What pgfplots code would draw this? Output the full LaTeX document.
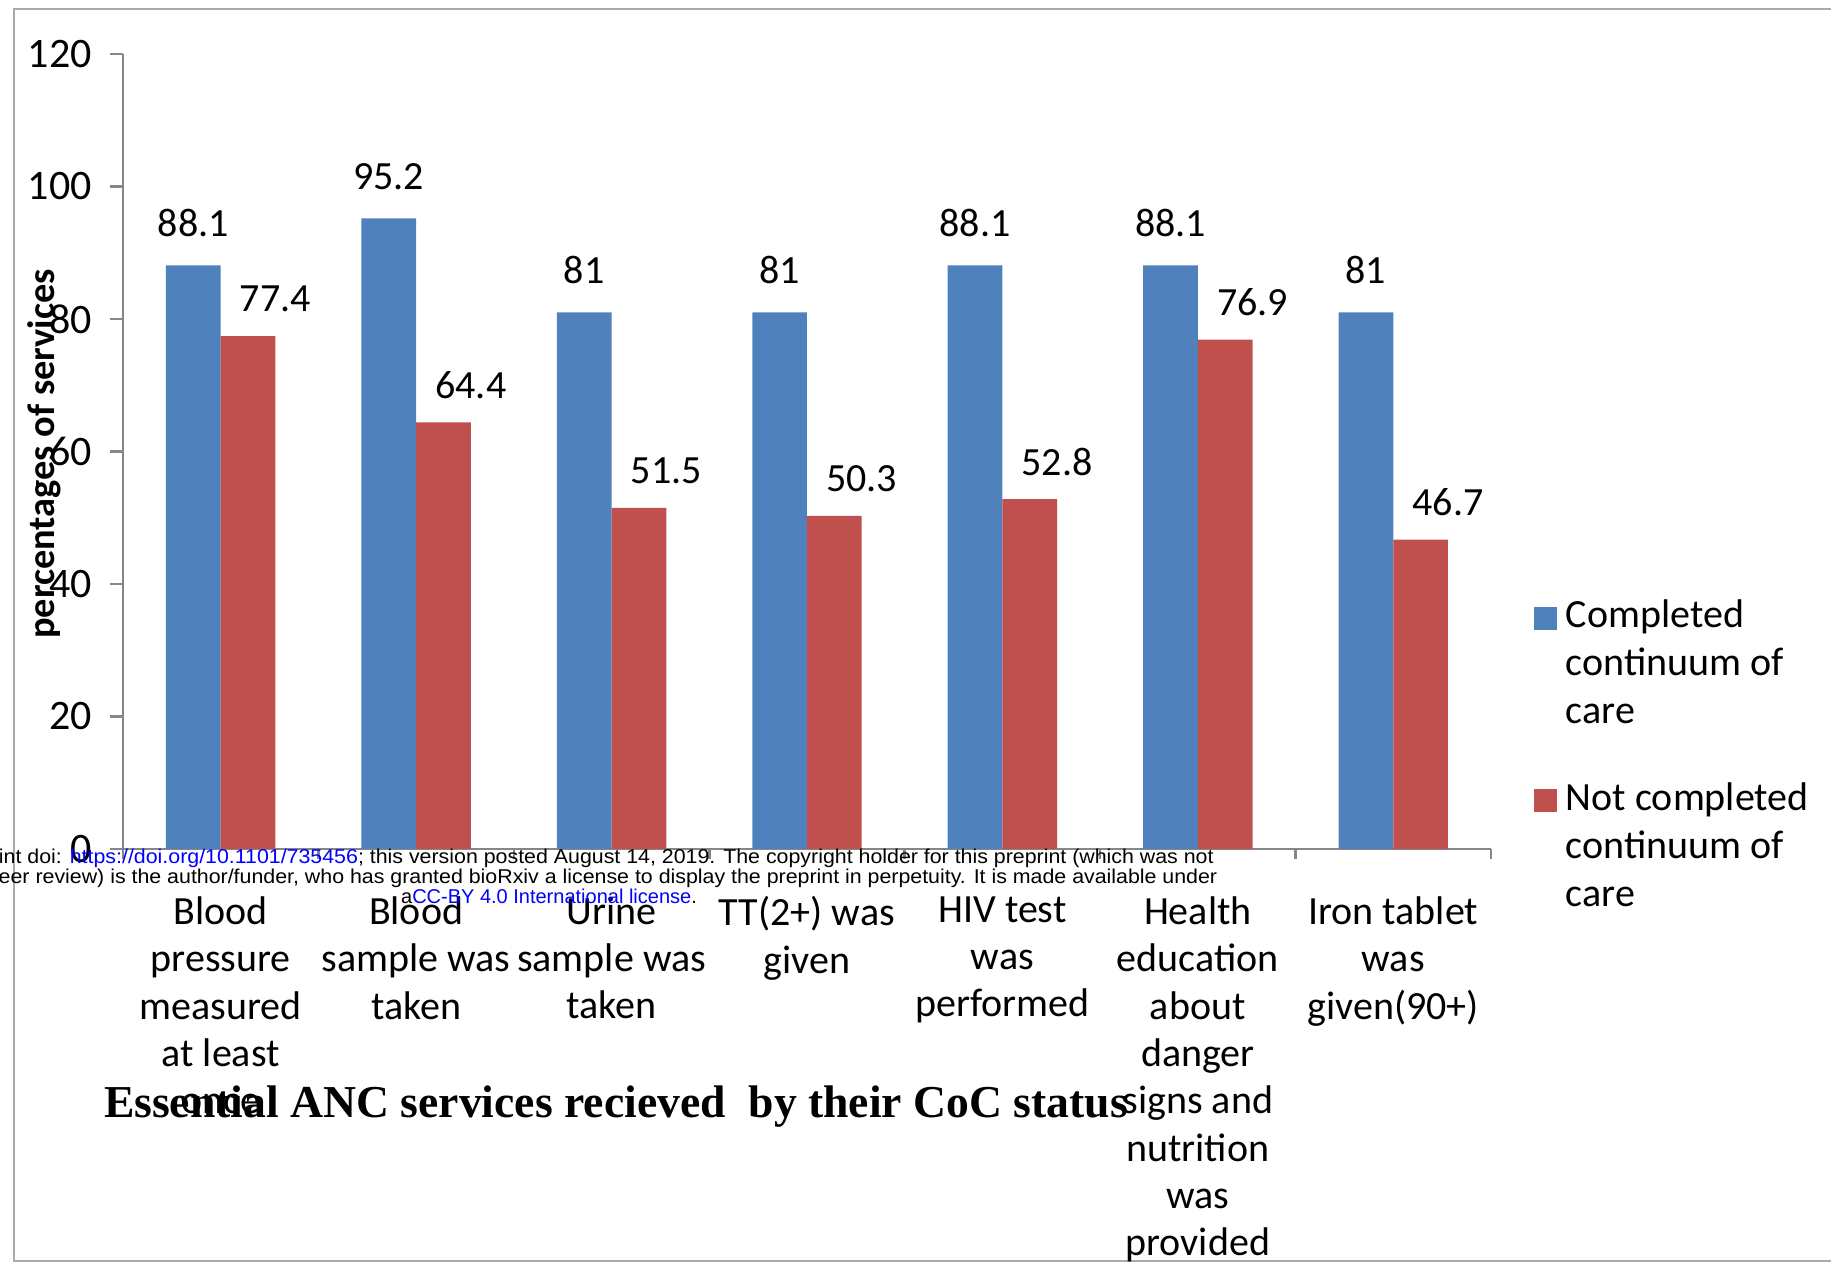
\documentclass[border=0pt]{standalone}
\usepackage{fontspec}
\setmainfont{Carlito}
\newfontfamily\seriffont{Liberation Serif}
\newfontfamily\arialfont{Liberation Sans}
\usepackage{pgfplots}
\pgfplotsset{compat=1.18}
\definecolor{cblue}{RGB}{79,129,189}
\definecolor{cred}{RGB}{192,80,77}
\definecolor{axgray}{RGB}{134,134,134}
\definecolor{framegray}{RGB}{170,170,170}
\definecolor{linkblue}{RGB}{0,0,255}
\newcommand\lbl{\fontsize{12}{14.4}\selectfont}
\begin{document}
\begin{tikzpicture}
\useasboundingbox (0,0) rectangle (549.3pt,379.8pt);
\draw[framegray, line width=0.75pt] (560pt,377.1pt) -- (4.2pt,377.1pt) -- (4.2pt,1.5pt) -- (560pt,1.5pt);
\begin{axis}[
  at={(36.9pt,125.1pt)}, anchor=south west,
  scale only axis, width=410.4pt, height=238.5pt,
  xmin=-0.5, xmax=6.5, ymin=0, ymax=120,
  axis x line=bottom, axis y line=left,
  axis line style={axgray, line width=0.8pt, -},
  /pgf/number format/assume math mode=true,
  ytick={0,20,...,120},
  tick align=outside,
  major tick length=3.9pt,
  minor tick length=3pt,
  y tick style={axgray, line width=0.8pt},
  major x tick style={draw=none},
  minor x tick style={axgray, line width=0.8pt},
  xtick={0,...,6},
  minor xtick={-0.5,0.5,...,6.5},
  xticklabels={{Blood\\pressure\\measured\\at least\\once},
    {Blood\\sample was\\taken},
    {Urine\\sample was\\taken},
    {TT(2+) was\\given},
    {HIV test\\was\\performed},
    {Health\\education\\about\\danger\\signs and\\nutrition\\was\\provided},
    {Iron tablet\\was\\given(90+)}},
  xticklabel style={font=\fontsize{12}{14.2}\selectfont, align=center, anchor=north, inner sep=0pt, yshift=-10.2pt},
  yticklabel style={font=\fontsize{12.6}{14}\selectfont, anchor=east, inner sep=0pt, xshift=-5.25pt},
  ylabel={percentages of services},
  every axis y label/.style={at={(axis description cs:-0.0577,0.497)}, anchor=center, rotate=90, font=\fontsize{11.5}{13}\selectfont\bfseries},
  ybar, bar width=0.28,
  legend style={at={(axis description cs:1.0307,0.321)}, anchor=north west, draw=none, fill=none,
     inner sep=0pt, row sep=0pt, column sep=2.7pt, font=\lbl,
     nodes={inner sep=0pt, text height=10pt, text depth=4.4pt}},
  legend cell align=left,
  clip=false,
]
\addplot[fill=cblue, draw=none, bar shift=-0.14,
  legend image code/.code={\fill[cblue] (0pt,-3.5pt) rectangle (7pt,3.5pt);},
  nodes near coords,
  every node near coord/.append style={font=\lbl, anchor=center, yshift=12.6pt, black}]
  coordinates {(0,88.1) (1,95.2) (2,81) (3,81) (4,88.1) (5,88.1) (6,81)};
\addlegendentry{Completed}
\addlegendimage{empty legend}\addlegendentry{continuum of}
\addlegendimage{empty legend}\addlegendentry{care}
\addlegendimage{empty legend}\addlegendentry[text height=5.75pt, text depth=5.75pt]{}
\addplot[fill=cred, draw=none, bar shift=0.14,
  legend image code/.code={\fill[cred] (0pt,-3.5pt) rectangle (7pt,3.5pt);},
  nodes near coords,
  every node near coord/.append style={font=\lbl, anchor=center, xshift=8.2pt, yshift=11.2pt, black}]
  coordinates {(0,77.4) (1,64.4) (2,51.5) (3,50.3) (4,52.8) (5,76.9) (6,46.7)};
\addlegendentry{Not completed}
\addlegendimage{empty legend}\addlegendentry{continuum of}
\addlegendimage{empty legend}\addlegendentry{care}
\end{axis}
\node[font=\seriffont\bfseries\fontsize{13.7}{16}\selectfont, anchor=center, inner sep=0pt] at (184.8pt,47.7pt) {Essential ANC services recieved~~by their CoC status};
\begin{scope}[every node/.style={font=\arialfont\fontsize{6}{6.1}\selectfont, inner sep=0pt}]
\node[anchor=base east] at (364.3pt,120.85pt) {\scalebox{1.068}[1]{bioRxiv preprint doi: \textcolor{linkblue}{https://doi.org/10.1101/735456}; this version posted August 14, 2019. The copyright holder for this preprint (which was not}};
\node[anchor=base east] at (365.4pt,114.75pt) {\scalebox{1.068}[1]{certified by peer review) is the author/funder, who has granted bioRxiv a license to display the preprint in perpetuity. It is made available under}};
\node[anchor=base] at (164.7pt,108.65pt) {a\textcolor{linkblue}{CC-BY 4.0 International license}.};
\end{scope}
\end{tikzpicture}
\end{document}
